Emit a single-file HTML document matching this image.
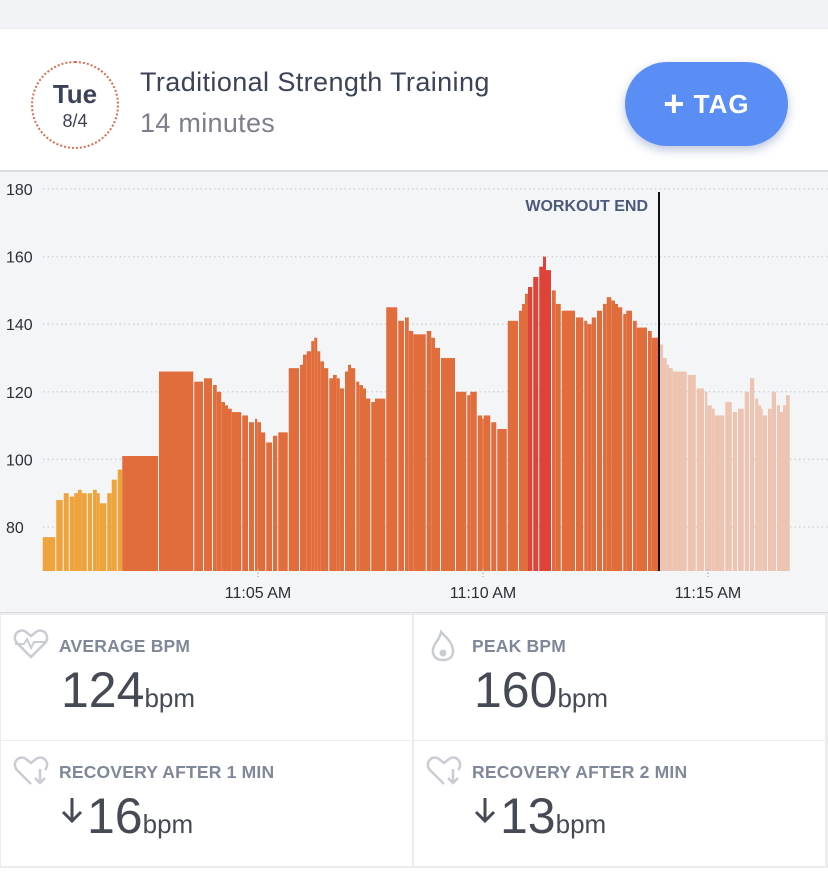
<!DOCTYPE html>
<html><head><meta charset="utf-8"><style>
body{margin:0;width:828px;height:878px;overflow:hidden;background:#fff;font-family:"Liberation Sans",sans-serif;position:relative}
.abs{position:absolute}
.cell{position:absolute;width:411px;height:125px;background:#fff}
.lab{position:absolute;left:58px;top:21px;font-size:17.5px;font-weight:bold;color:#7f8799;letter-spacing:0.2px}
.val{position:absolute;left:60px;top:46px;font-size:50px;color:#454a54;white-space:nowrap}
.val small{font-size:26px}
.ico{position:absolute;left:12px;top:14px}
.arr{display:inline-block;vertical-align:10px;margin-right:4px}
</style></head><body>
<div class="abs" style="left:0;top:0;width:828px;height:28px;background:#f2f3f7;border-bottom:1px solid #e8e9ee"></div>
<div class="abs" style="left:0;top:29px;width:828px;height:141px;background:#fff"></div>
<div class="abs" style="left:31px;top:61px;width:84px;height:84px;border:2px dotted #df6a4e;border-radius:50%;text-align:center">
<div style="font-size:26px;font-weight:bold;color:#3c4257;margin-top:16px">Tue</div>
<div style="font-size:18px;color:#3c4257;margin-top:1px">8/4</div></div>
<div class="abs" style="left:140px;top:67px;font-size:27px;color:#3c4257;letter-spacing:0.4px">Traditional Strength Training</div>
<div class="abs" style="left:140px;top:108px;font-size:27px;color:#7c7f8b;letter-spacing:0.3px">14 minutes</div>
<div class="abs" style="left:625px;top:62px;width:163px;height:84px;border-radius:42px;background:#5b8ef5;box-shadow:0 4px 10px rgba(60,90,160,0.35);color:#fff;font-size:26px;font-weight:bold;text-align:center;line-height:84px;letter-spacing:1px"><span style="font-size:36px;vertical-align:-3px">+</span>&nbsp;TAG</div>

<svg class="abs" style="left:0;top:170px" width="828" height="444">
<rect x="0" y="0" width="828" height="444" fill="#f4f5f7"/>
<line x1="0" y1="1" x2="828" y2="1" stroke="#dcdde1" stroke-width="2"/>
<line x1="0" y1="443" x2="828" y2="443" stroke="#dcdde1" stroke-width="2"/>
<g id="grid"></g><g id="bars"></g><g id="axes"></g>
</svg>

<div class="abs" style="left:0;top:613px;width:828px;height:255px;background:#ececee"></div>
<div class="cell" style="left:1px;top:615px">
<svg class="ico" width="36" height="30"><path d="M18 28 L4 14 C-2 7 6 -2 13 3 L18 7 L23 3 C30 -2 38 7 32 14 Z" fill="none" stroke="#c9ccd3" stroke-width="2.5"/><path d="M2 15 H11 L14 10 L18 19 L21 13 H34" fill="none" stroke="#c9ccd3" stroke-width="2"/></svg>
<div class="lab">AVERAGE BPM</div>
<div class="val">124<small>bpm</small></div></div>
<div class="cell" style="left:414px;top:615px">
<svg class="ico" width="36" height="34"><path d="M17 31 C8 31 5 24 8 17 C10 12 14 10 15 3 C20 8 27 14 27 22 C27 28 23 31 17 31 Z" fill="none" stroke="#c9ccd3" stroke-width="2.5"/><circle cx="17" cy="24" r="3.5" fill="#c9ccd3"/></svg>
<div class="lab">PEAK BPM</div>
<div class="val">160<small>bpm</small></div></div>
<div class="cell" style="left:1px;top:741px">
<svg class="ico" width="36" height="34"><path d="M18 29 L4 15 C-2 8 6 -1 13 4 L18 8 L23 4 C30 -1 38 8 32 15" fill="none" stroke="#c9ccd3" stroke-width="2.5"/><path d="M27 14 V28 M22 23 L27 28 L32 23" fill="none" stroke="#c9ccd3" stroke-width="2.5"/></svg>
<div class="lab">RECOVERY AFTER 1 MIN</div>
<div class="val"><svg class="arr" width="22" height="26"><path d="M11 1 V24 M2 15 L11 24 L20 15" fill="none" stroke="#454a54" stroke-width="3"/></svg>16<small>bpm</small></div></div>
<div class="cell" style="left:414px;top:741px">
<svg class="ico" width="36" height="34"><path d="M18 29 L4 15 C-2 8 6 -1 13 4 L18 8 L23 4 C30 -1 38 8 32 15" fill="none" stroke="#c9ccd3" stroke-width="2.5"/><path d="M27 14 V28 M22 23 L27 28 L32 23" fill="none" stroke="#c9ccd3" stroke-width="2.5"/></svg>
<div class="lab">RECOVERY AFTER 2 MIN</div>
<div class="val"><svg class="arr" width="22" height="26"><path d="M11 1 V24 M2 15 L11 24 L20 15" fill="none" stroke="#454a54" stroke-width="3"/></svg>13<small>bpm</small></div></div>

<script>
// seconds after 11:00:00 where each bar starts
const barStarts = [13,31,41,49,55,60,65,73,80,85,89,99,105,113,
119,168,215,228,240,245,251,256,260,265,279,288,296,299,304,311,320,327,341,
356,360,365,371,375,379,383,388,395,400,405,409,416,420,424,431,435,440,444,451,456,471,487,496,501,507,525,531,536,544,564,579,583,593,599,601,611,619,633,648,652,656,660,667,675,680,684,692,697,705,724,735,739,745,752,760,765,771,776,780,787,791,800,805,820,825,
836,840,845,848,853,873,885,896,899,905,909,923,933,940,949,956,963,967,971,973,980,985,992,996,1000,1004];
const barEnd = 1009;
const bpmValues = [77,88,90,89,90,91,90,90,91,90,87,90,94,97,
101,126,123,124,122,120,117,116,115,114,113,111,112,111,108,105,107,108,127,
128,131,132,135,136,132,129,127,124,125,124,121,126,128,127,123,122,121,118,117,118,145,141,142,138,137,138,136,133,130,120,119,120,113,112,113,111,109,141,144,146,149,151,154,157,160,156,150,146,144,142,141,140,142,144,146,148,147,146,145,143,144,141,139,138,136,
134,130,128,127,126,125,121,120,116,115,113,117,114,115,120,124,118,116,115,113,115,120,116,114,116,119];
const yTicks = [80,100,120,140,160,180];
const xTickSecs = [300,600,900];
const xTickLabels = ["11:05 AM","11:10 AM","11:15 AM"];
const workoutEndSec = 836;

const NS="http://www.w3.org/2000/svg";
const top0=170;
function y(v){return 189+(180-v)*3.38-top0;}
function x(s){return 33+s*0.75;}
function mk(t,a,p){const e=document.createElementNS(NS,t);for(const k in a)e.setAttribute(k,a[k]);p.appendChild(e);return e;}
const grid=document.getElementById('grid'),bars=document.getElementById('bars'),axes=document.getElementById('axes');
const base=571-top0;
yTicks.forEach(v=>{
  const l=mk('line',{x1:43,x2:828,y1:y(v),y2:y(v),stroke:'#d3d5da','stroke-width':1.5,'stroke-dasharray':'1.5 3'},grid);
  
  
  const t=mk('text',{x:6,y:y(v)+6,'font-size':16,fill:'#2b2e36'},axes);
  t.textContent=v;
  
  
});
for(let i=0;i<bpmValues.length;i++){
  const s=barStarts[i],e=i+1<barStarts.length?barStarts[i+1]:barEnd,v=bpmValues[i];
  const x0=x(s),w=x(e)-x0;
  let c;
  if(s>=workoutEndSec)c='#edc4b1';else if(v<100)c='#efa33b';else if(v>150)c='#df4337';else c='#e26d3c';
  const r=mk('rect',{x:x0,y:y(v),width:Math.max(0.5,w-(w>=5?1:0)),height:base-y(v),fill:c},bars);
  
  
}
xTickSecs.forEach((s,i)=>{
  const l=mk('line',{x1:x(s),x2:x(s),y1:base-2,y2:base+6,stroke:'#b9bbc0','stroke-width':1.5,'stroke-dasharray':'1.5 2'},axes);
  
  
  const t=mk('text',{x:x(s),y:base+27,'font-size':16,fill:'#2b2e36','text-anchor':'middle'},axes);
  t.textContent=xTickLabels[i];
  
  
});
const el=mk('line',{x1:x(workoutEndSec)-1,x2:x(workoutEndSec)-1,y1:192-top0,y2:base,stroke:'#111','stroke-width':2},axes);


const et=mk('text',{x:648,y:211-top0,'font-size':16,'font-weight':'bold',fill:'#4b5a7c','text-anchor':'end'},axes);
et.textContent='WORKOUT END';


</script>
</body></html>
